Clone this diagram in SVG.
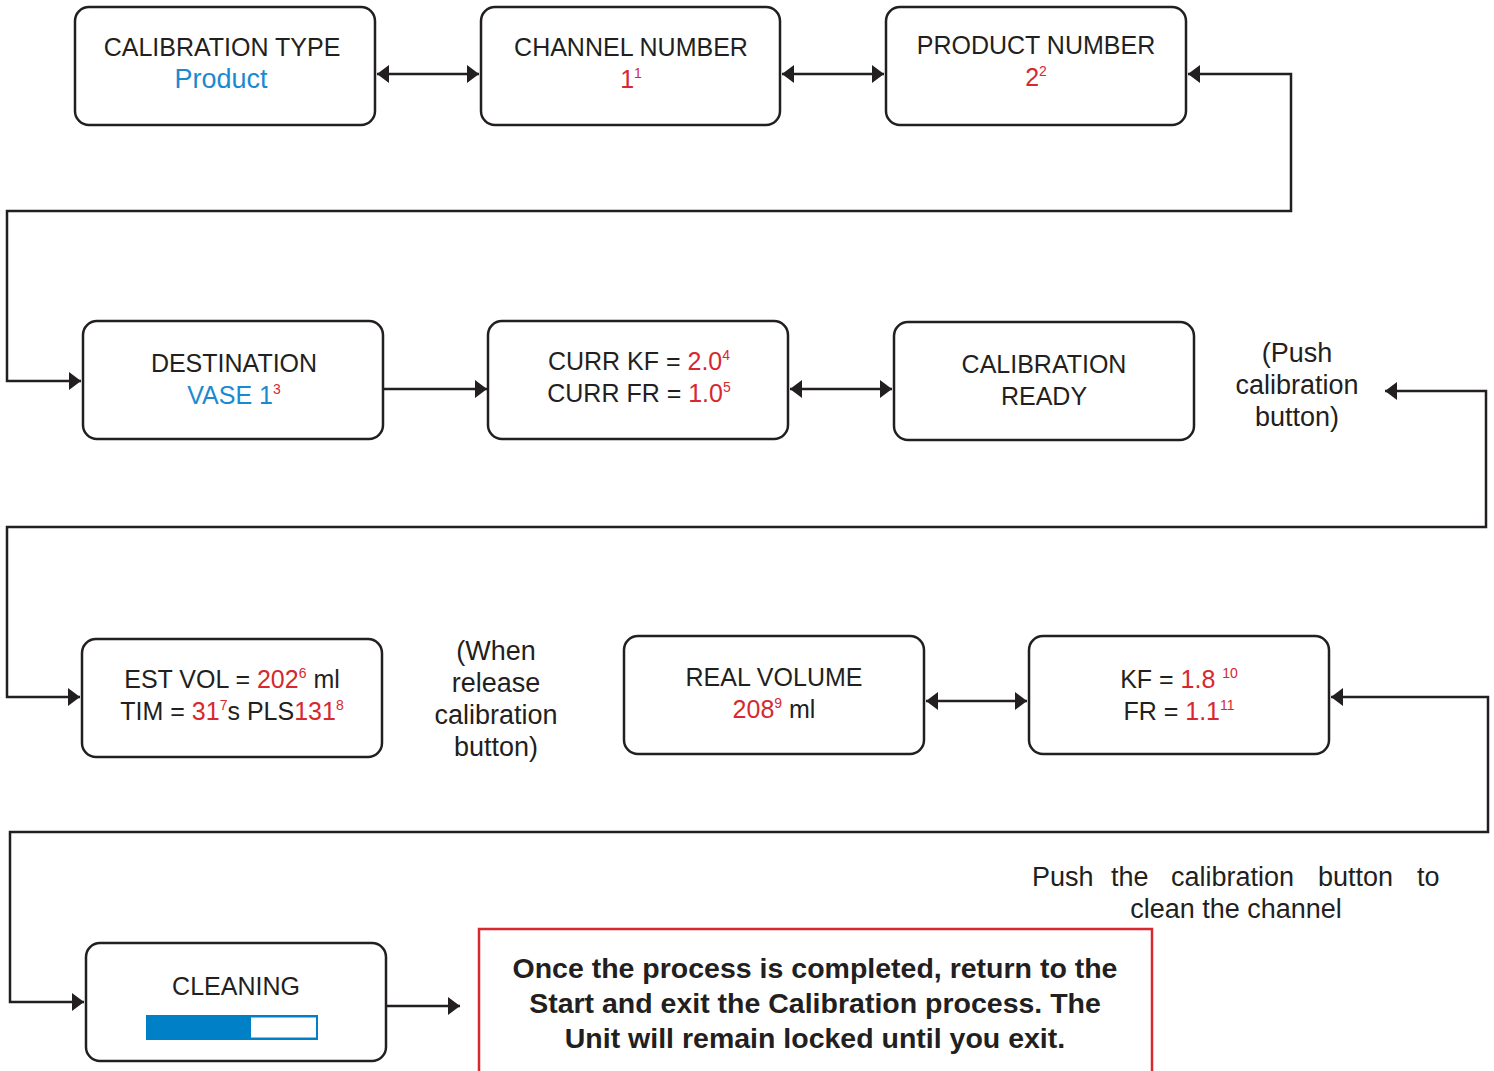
<svg xmlns="http://www.w3.org/2000/svg" width="1494" height="1071" viewBox="0 0 1494 1071">
<style>
.box{fill:#fff;stroke:#231f20;stroke-width:2.5}
.t{font-family:"Liberation Sans",Arial,sans-serif;font-size:25px;fill:#231f20;text-anchor:middle}
.lc{font-size:27px}
.r{fill:#d7282f}
.b{fill:#1a8ad0}
.sup{font-size:14px}
.con{fill:none;stroke:#231f20;stroke-width:2.5}
.note{font-family:"Liberation Sans",Arial,sans-serif;font-size:28.5px;font-weight:bold;fill:#231f20;text-anchor:middle}
</style>
<defs>
<marker id="ah" viewBox="0 0 12 18" refX="12" refY="9" markerWidth="12" markerHeight="18" markerUnits="userSpaceOnUse" orient="auto-start-reverse">
<path d="M0,0 L12,9 L0,18 Z" fill="#231f20"/>
</marker>
</defs>
<rect width="1494" height="1071" fill="#fff"/>
<g id="connectors">
<path class="con" d="M377,74 H479" marker-start="url(#ah)" marker-end="url(#ah)"/>
<path class="con" d="M782,74 H884" marker-start="url(#ah)" marker-end="url(#ah)"/>
<path class="con" d="M1188,74 H1291 V211 H7 V381 H81" marker-start="url(#ah)" marker-end="url(#ah)"/>
<path class="con" d="M383,389 H487" marker-end="url(#ah)"/>
<path class="con" d="M790,389 H892" marker-start="url(#ah)" marker-end="url(#ah)"/>
<path class="con" d="M1385,391 H1486 V527 H7 V697 H80" marker-start="url(#ah)" marker-end="url(#ah)"/>
<path class="con" d="M926,701 H1027" marker-start="url(#ah)" marker-end="url(#ah)"/>
<path class="con" d="M1331,697 H1488 V832 H10 V1002 H84" marker-start="url(#ah)" marker-end="url(#ah)"/>
<path class="con" d="M386,1006 H460" marker-end="url(#ah)"/>
</g>
<g id="calibration-type">
<rect class="box" x="75" y="7" width="300" height="118" rx="14"/>
<text class="t" x="222" y="56">CALIBRATION TYPE</text>
<text class="t b lc" x="221" y="88">Product</text>
</g>
<g id="channel-number">
<rect class="box" x="481" y="7" width="299" height="118" rx="14"/>
<text class="t" x="631" y="56">CHANNEL NUMBER</text>
<text class="t" x="631" y="88"><tspan class="r">1</tspan><tspan class="r sup" baseline-shift="10">1</tspan></text>
</g>
<g id="product-number">
<rect class="box" x="886" y="7" width="300" height="118" rx="14"/>
<text class="t" x="1036" y="54">PRODUCT NUMBER</text>
<text class="t" x="1036" y="86"><tspan class="r">2</tspan><tspan class="r sup" baseline-shift="10">2</tspan></text>
</g>
<g id="destination">
<rect class="box" x="83" y="321" width="300" height="118" rx="14"/>
<text class="t" x="234" y="372">DESTINATION</text>
<text class="t" x="234" y="404"><tspan class="b">VASE 1</tspan><tspan class="r sup" baseline-shift="10">3</tspan></text>
</g>
<g id="curr-kf">
<rect class="box" x="488" y="321" width="300" height="118" rx="14"/>
<text class="t" x="639" y="370">CURR KF = <tspan class="r">2.0</tspan><tspan class="r sup" baseline-shift="10">4</tspan></text>
<text class="t" x="639" y="402">CURR FR = <tspan class="r">1.0</tspan><tspan class="r sup" baseline-shift="10">5</tspan></text>
</g>
<g id="calibration-ready">
<rect class="box" x="894" y="322" width="300" height="118" rx="14"/>
<text class="t" x="1044" y="373">CALIBRATION</text>
<text class="t" x="1044" y="405">READY</text>
</g>
<g id="push-label">
<text class="t lc" x="1297" y="362">(Push</text>
<text class="t lc" x="1297" y="394">calibration</text>
<text class="t lc" x="1297" y="426">button)</text>
</g>
<g id="est-vol">
<rect class="box" x="82" y="639" width="300" height="118" rx="14"/>
<text class="t" x="232" y="688">EST VOL = <tspan class="r">202</tspan><tspan class="r sup" baseline-shift="10">6</tspan> ml</text>
<text class="t" x="232" y="720">TIM = <tspan class="r">31</tspan><tspan class="r sup" baseline-shift="10">7</tspan>s PLS<tspan class="r">131</tspan><tspan class="r sup" baseline-shift="10">8</tspan></text>
</g>
<g id="when-label">
<text class="t lc" x="496" y="660">(When</text>
<text class="t lc" x="496" y="692">release</text>
<text class="t lc" x="496" y="724">calibration</text>
<text class="t lc" x="496" y="756">button)</text>
</g>
<g id="real-volume">
<rect class="box" x="624" y="636" width="300" height="118" rx="14"/>
<text class="t" x="774" y="686">REAL VOLUME</text>
<text class="t" x="774" y="718"><tspan class="r">208</tspan><tspan class="r sup" baseline-shift="10">9</tspan> ml</text>
</g>
<g id="kf-fr">
<rect class="box" x="1029" y="636" width="300" height="118" rx="14"/>
<text class="t" x="1179" y="688">KF = <tspan class="r">1.8 </tspan><tspan class="r sup" baseline-shift="10">10</tspan></text>
<text class="t" x="1179" y="720">FR = <tspan class="r">1.1</tspan><tspan class="r sup" baseline-shift="10">11</tspan></text>
</g>
<g id="clean-label">
<text class="t lc" y="886" style="text-anchor:start"><tspan x="1032">Push</tspan> <tspan x="1111">the</tspan> <tspan x="1171">calibration</tspan> <tspan x="1318">button</tspan> <tspan x="1417">to</tspan></text>
<text class="t lc" x="1236" y="918">clean the channel</text>
</g>
<g id="cleaning">
<rect class="box" x="86" y="943" width="300" height="118" rx="14"/>
<text class="t" x="236" y="995">CLEANING</text>
<rect x="146" y="1015" width="172" height="25" fill="#0080c6"/>
<rect x="251" y="1017.5" width="65" height="20" fill="#fff"/>
</g>
<g id="note">
<rect x="479" y="929" width="673" height="160" fill="none" stroke="#d7282f" stroke-width="2.5"/>
<text class="note" x="815" y="978">Once the process is completed, return to the</text>
<text class="note" x="815" y="1013">Start and exit the Calibration process. The</text>
<text class="note" x="815" y="1048">Unit will remain locked until you exit.</text>
</g>
</svg>
